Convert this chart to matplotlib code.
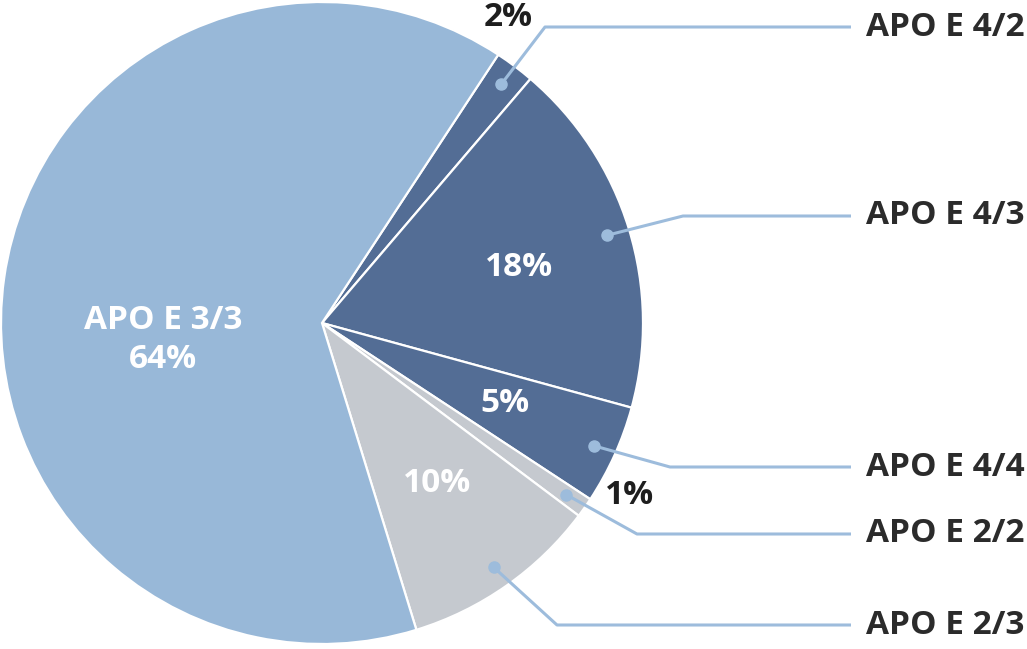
import numpy as np
import matplotlib.pyplot as plt

# slices in clockwise order starting from the top-right wedge
labels = ['APO E 4/2', 'APO E 4/3', 'APO E 4/4', 'APO E 2/2', 'APO E 2/3', 'APO E 3/3']
values = [2, 18, 5, 1, 10, 64]
pct_text = ['2%', '18%', '5%', '1%', '10%', 'APO E 3/3\n64%']

DARK = '#536d95'
LIGHT = '#98b8d8'
GRAY = '#c5c9cf'
LINE = '#9dbcdc'
colors = [DARK, DARK, DARK, GRAY, GRAY, LIGHT]

plt.rcParams['font.family'] = ['Open Sans', 'DejaVu Sans']

W, H = 1027, 649
fig = plt.figure(figsize=(W / 100, H / 100), dpi=100)
ax = fig.add_axes([0, 0, 1, 1])

cx, cy, R = 322, H - 323, 321
wedges, _ = ax.pie(values, colors=colors, startangle=56.7, counterclock=False,
                   center=(cx, cy), radius=R, frame=True,
                   wedgeprops=dict(edgecolor='white', linewidth=1.6))
ax.set_xlim(0, W)
ax.set_ylim(0, H)
ax.set_aspect('equal')
ax.axis('off')

# percentage labels (pixel positions from top)
pct_pos = [(508, 18, '#1e1e1e'), (519, 268, 'white'), (505, 403, 'white'),
           (630, 495, '#1e1e1e'), (437, 483, 'white'), (163, 340, 'white')]
for t, (x, y, c) in zip(pct_text, pct_pos):
    ax.text(x, H - y, t, color=c, fontsize=24, fontweight='bold',
            ha='center', va='center', linespacing=1.25)

# leader lines: dot at wedge mid-angle, elbow, horizontal to the label
elbows = [(545, 27), (683, 216), (670, 467), (637, 534), (557, 625)]
line_end = 851
for w, lab, (ex, ey) in zip(wedges[:5], labels[:5], elbows):
    ang = np.deg2rad((w.theta1 + w.theta2) / 2)
    dx = cx + 0.93 * R * np.cos(ang)
    dy = cy + 0.93 * R * np.sin(ang)
    ax.plot([dx, ex, line_end], [dy, H - ey, H - ey], color=LINE, lw=2.2,
            solid_capstyle='butt', zorder=5)
    ax.plot(dx, dy, 'o', color=LINE, ms=8, zorder=6)
    ax.text(866, H - ey, lab, color='#2b2b2b', fontsize=24, fontweight='bold',
            ha='left', va='center')

fig.savefig('out.png', dpi=100)
